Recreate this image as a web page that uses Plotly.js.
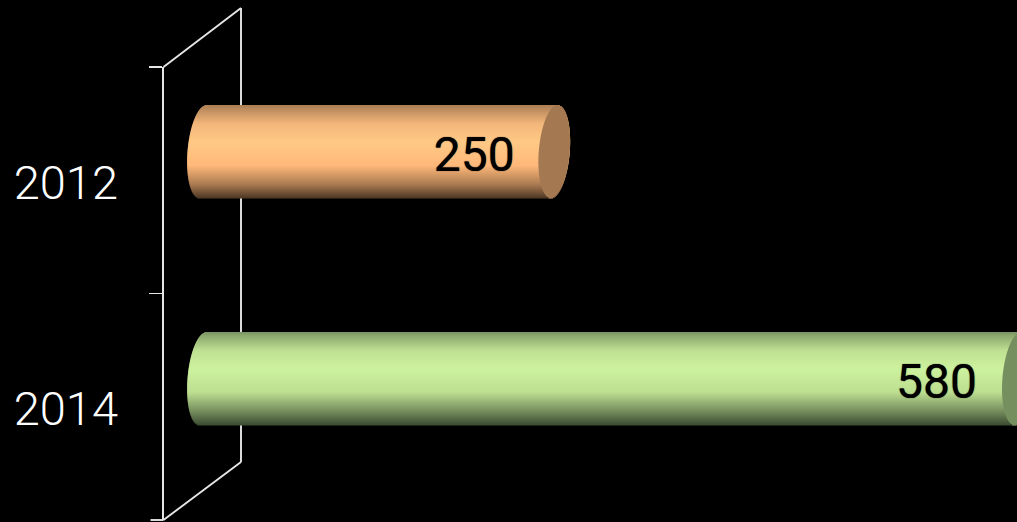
<!DOCTYPE html>
<html>
<head>
<meta charset="utf-8">
<script src="https://cdn.plot.ly/plotly-3.0.1.min.js"></script>
<style>html,body{margin:0;padding:0;background:#000;overflow:hidden}#c{width:1017px;height:522px}</style>
</head>
<body>
<div id="c"></div>
<script>
// Data
var years = ['2012', '2014'];
var values = [250, 580];
var valueLabels = ['250', '580'];

// Styling: cylinder shading, top (0) to bottom (1), one palette per bar
var shadeStops = [0, 0.04, 0.2, 0.4, 0.65, 0.85, 1];
var bodyColors = [
  [[170,126,84],[186,138,92],[242,182,122],[255,201,133],[255,184,122],[172,124,82],[78,56,36]],
  [[120,146,98],[140,168,110],[190,224,146],[205,242,158],[188,222,144],[118,142,94],[60,76,50]]
];
var capColors = ['#a47850', '#768f5e'];

// Geometry in page pixels
var W = 1017, H = 522, plotLeft = 164;
var pxPerUnit = 1.405, zeroPx = 203;
var rowCentre0 = 151.5, rowStep = 227, barPx = 93, capRx = 15.5, capTilt = -3.5;
var labelShiftPx = [80, 81.5], labelDropPx = 7.5;
var frameFront = {x: 163.5, top: 67, bottom: 520}, frameBack = {x: 241, top: 8, bottom: 462};
var tickLen = 13;

function shade(pal, t) {
  for (var i = 1; i < shadeStops.length; i++) {
    if (t <= shadeStops[i]) {
      var f = (t - shadeStops[i-1]) / (shadeStops[i] - shadeStops[i-1]);
      var a = pal[i-1], b = pal[i];
      return 'rgb(' + [0,1,2].map(function (k) { return Math.round(a[k] + (b[k]-a[k]) * f); }).join(',') + ')';
    }
  }
  return 'rgb(' + pal[pal.length-1].join(',') + ')';
}

var traces = [];
var d = 1 / rowStep;
var hoverOff = {hoverinfo: 'skip', showlegend: false};

// Slices of each cylinder (body then end cap), all sized from values through the axes
for (var i = 0; i < barPx; i++) {
  var t = (i + 0.5) / barPx, u = 2 * t - 1;
  var half = Math.sqrt(Math.max(0, 1 - u * u)) * capRx / pxPerUnit;
  var tilt = u * capTilt / pxPerUnit;
  var bases = [], lens = [], cols = [], ys = [];
  values.forEach(function (v, k) {
    ys.push(years[k]);
    bases.push(tilt - half);
    lens.push(v + half + half);
    cols.push(shade(bodyColors[k], t));
  });
  values.forEach(function (v, k) {
    ys.push(years[k]);
    bases.push(v + tilt - half);
    lens.push(2 * half);
    cols.push(capColors[k]);
  });
  traces.push(Object.assign({
    type: 'bar', orientation: 'h', y: ys, x: lens, base: bases,
    width: d * 1.6, offset: (-barPx / 2 + i) * d,
    marker: {color: cols, opacity: 1, line: {width: 0}}, xaxis: 'x', yaxis: 'y2'
  }, hoverOff));
}

// Value labels
traces.push(Object.assign({
  type: 'scatter', mode: 'text',
  x: values.map(function (v, k) { return v - labelShiftPx[k] / pxPerUnit; }),
  y: years.map(function (y, k) { return k + labelDropPx / rowStep; }),
  text: valueLabels, textposition: 'middle center',
  textfont: {family: 'Roboto, sans-serif', size: 48, color: '#000', weight: 400,
             shadow: '0 0 1px rgba(0,0,0,0.9)'},
  cliponaxis: false, xaxis: 'x', yaxis: 'y4'
}, hoverOff));

// Carriers for the category axes (frame ticks, year labels)
traces.push(Object.assign({type: 'scatter', mode: 'none', x: values, y: years, xaxis: 'x', yaxis: 'y'}, hoverOff));
traces.push(Object.assign({type: 'scatter', mode: 'none', x: values, y: years, xaxis: 'x', yaxis: 'y3'}, hoverOff));

function px2x(x) { return (x - plotLeft) / (W - plotLeft); }
function px2y(y) { return 1 - y / H; }
var wallColor = '#e6e6e6', wallWidth = 1.9;
function wall(x0, y0, x1, y1) {
  return {type: 'line', xref: 'paper', yref: 'paper', layer: 'below',
    x0: px2x(x0), y0: px2y(y0), x1: px2x(x1), y1: px2y(y1),
    line: {color: wallColor, width: wallWidth}};
}
var fullRange = [(H - rowCentre0) / rowStep, -rowCentre0 / rowStep];

var layout = {
  width: W, height: H,
  paper_bgcolor: '#000', plot_bgcolor: 'rgba(0,0,0,0)',
  margin: {l: plotLeft, r: 0, t: 0, b: 0, pad: 0},
  barmode: 'overlay', showlegend: false,
  font: {family: 'Roboto, sans-serif', color: '#fff'},
  xaxis: {
    visible: false, fixedrange: true,
    range: [(plotLeft - zeroPx) / pxPerUnit, (W - zeroPx) / pxPerUnit]
  },
  // front edge of the frame with its ticks
  yaxis: {
    type: 'category', categoryorder: 'array', categoryarray: years,
    domain: [px2y(frameFront.bottom), px2y(frameFront.top)],
    range: [1.5, -0.5], anchor: 'x', side: 'left',
    showgrid: false, zeroline: false, showline: true, linecolor: wallColor, linewidth: wallWidth,
    ticks: 'outside', tickson: 'boundaries', ticklen: tickLen, tickwidth: wallWidth, tickcolor: wallColor,
    showticklabels: false, fixedrange: true
  },
  // bars
  yaxis2: {
    type: 'category', categoryorder: 'array', categoryarray: years,
    domain: [0, 1], anchor: 'x', visible: false, fixedrange: true, range: fullRange
  },
  // year labels
  yaxis3: {
    type: 'category', categoryorder: 'array', categoryarray: years,
    domain: [px2y(frameFront.bottom + 2), px2y(frameFront.top + 2)],
    range: [1.5, -0.5], anchor: 'x', side: 'left',
    showgrid: false, zeroline: false, showline: false, ticks: '',
    ticklabelstandoff: 45,
    tickfont: {family: 'Roboto, sans-serif', size: 47, color: '#fff', weight: 300},
    fixedrange: true
  },
  // value labels
  yaxis4: {
    domain: [0, 1], anchor: 'x', visible: false, fixedrange: true, range: fullRange
  },
  shapes: [
    wall(frameFront.x, frameFront.top, frameBack.x, frameBack.top),
    wall(frameBack.x, frameBack.top, frameBack.x, frameBack.bottom),
    wall(frameBack.x, frameBack.bottom, frameFront.x, frameFront.bottom),
    wall(frameFront.x - tickLen, frameFront.bottom, frameFront.x, frameFront.bottom)
  ]
};

Plotly.newPlot('c', traces, layout, {displayModeBar: false, staticPlot: true});
</script>
</body>
</html>
